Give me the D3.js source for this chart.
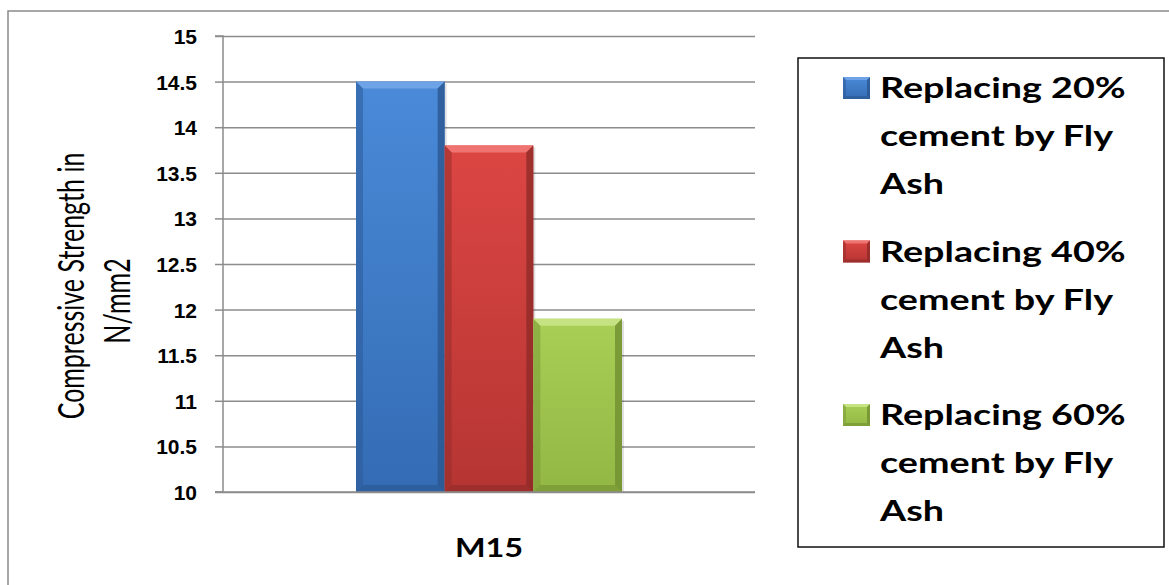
<!DOCTYPE html>
<html lang="en">
<head>
    <meta charset="UTF-8">
    <script src="https://d3js.org/d3.v7.min.js"></script>
    <title>Compressive Strength</title>
    <style>
        body {
            margin: 0;
            padding: 0;
            background: #fff;
        }
        svg {
            display: block;
        }
    </style>
</head>
<body>
<script>
    // data
    var categories = ['M15']
    var seriesNames = [
        'Replacing 20% cement by Fly Ash',
        'Replacing 40% cement by Fly Ash',
        'Replacing 60% cement by Fly Ash'
    ]
    var values = [14.5, 13.8, 11.9]
    var legendLines = [
        ['Replacing 20%', 'cement by Fly', 'Ash'],
        ['Replacing 40%', 'cement by Fly', 'Ash'],
        ['Replacing 60%', 'cement by Fly', 'Ash']
    ]
    var yDomain = [10, 15]
    var yLabelLines = ['Compressive Strength in', 'N/mm2']

    // colours per series
    var palette = [
        { top: '#4a8ad8', bottom: '#346cb4', side: '#2b5a98', hi: '#6fa3e8', lo: '#2a5690' },
        { top: '#dc4643', bottom: '#b53533', side: '#982d2b', hi: '#ef7471', lo: '#8e2a28' },
        { top: '#a9cf56', bottom: '#93b744', side: '#7a9a36', hi: '#c6e383', lo: '#718f31' }
    ]

    var W = 1169, H = 585
    var plot = { left: 223, right: 755, top: 36, bottom: 492 }

    var svg = d3.select('body').append('svg')
        .attr('width', W)
        .attr('height', H)
        .style('font-family', 'Lato, "Open Sans", sans-serif')

    var defs = svg.append('defs')
    palette.forEach(function (c, i) {
        var g = defs.append('linearGradient')
            .attr('id', 'grad' + i)
            .attr('x1', 0).attr('y1', 0).attr('x2', 0).attr('y2', 1)
        g.append('stop').attr('offset', '0%').attr('stop-color', c.top)
        g.append('stop').attr('offset', '100%').attr('stop-color', c.bottom)
    })

    // outer chart border
    svg.append('rect')
        .attr('x', 8).attr('y', 11)
        .attr('width', W + 20).attr('height', H + 20)
        .attr('fill', 'none')
        .attr('stroke', '#8a8a8a')
        .attr('stroke-width', 1.5)

    var y = d3.scaleLinear().domain(yDomain).range([plot.bottom, plot.top])
    var x0 = d3.scaleBand().domain(categories).range([plot.left, plot.right])
        .paddingInner(0).paddingOuter(0.5)
    var x1 = d3.scaleBand().domain(d3.range(values.length)).range([0, x0.bandwidth()])

    var yTicks = y.ticks(10)

    // gridlines
    svg.append('g')
        .attr('transform', 'translate(' + plot.left + ',0)')
        .call(d3.axisLeft(y).tickValues(yTicks).tickSize(-(plot.right - plot.left)).tickFormat(''))
        .call(function (g) {
            g.select('.domain').remove()
            g.selectAll('line').attr('stroke', '#8c8c8c').attr('stroke-width', 1.5)
        })

    // bars with a bevel look
    function bevelBar(parent, bx, by, bw, bh, i, b) {
        var c = palette[i]
        var g = parent.append('g')
        g.append('rect')
            .attr('x', bx).attr('y', by)
            .attr('width', bw).attr('height', bh)
            .attr('fill', 'url(#grad' + i + ')')
        // top bevel
        g.append('polygon')
            .attr('points', [[bx, by], [bx + bw, by], [bx + bw - b, by + b], [bx + b, by + b]].join(' '))
            .attr('fill', c.hi)
        // left bevel
        g.append('polygon')
            .attr('points', [[bx, by], [bx + b, by + b], [bx + b, by + bh - b], [bx, by + bh]].join(' '))
            .attr('fill', c.side).attr('opacity', 0.55)
        // right bevel
        g.append('polygon')
            .attr('points', [[bx + bw, by], [bx + bw, by + bh], [bx + bw - b, by + bh - b], [bx + bw - b, by + b]].join(' '))
            .attr('fill', c.lo).attr('opacity', 0.8)
        // bottom bevel
        g.append('polygon')
            .attr('points', [[bx, by + bh], [bx + bw, by + bh], [bx + bw - b, by + bh - b], [bx + b, by + bh - b]].join(' '))
            .attr('fill', c.lo).attr('opacity', 0.6)
        return g
    }

    var barsG = svg.append('g')
    categories.forEach(function (cat) {
        values.forEach(function (v, i) {
            var bx = x0(cat) + x1(i)
            var by = y(v)
            var bw = x1.bandwidth()
            var bh = y(yDomain[0]) - by
            // soft shadow
            barsG.append('rect')
                .attr('x', bx + 2).attr('y', by + 2)
                .attr('width', bw).attr('height', bh - 2)
                .attr('fill', '#000').attr('opacity', 0.12)
            bevelBar(barsG, bx, by, bw, bh, i, 7)
        })
    })

    // y axis
    svg.append('g')
        .attr('transform', 'translate(' + plot.left + ',0)')
        .call(d3.axisLeft(y).tickValues(yTicks).tickSize(8).tickPadding(18)
            .tickFormat(function (d) { return String(d) }))
        .call(function (g) {
            g.select('.domain').attr('stroke', '#8c8c8c').attr('stroke-width', 1.5)
                .attr('d', 'M-8,' + plot.top + 'H0V' + plot.bottom + 'H-8')
            g.selectAll('.tick line').attr('stroke', '#8c8c8c').attr('stroke-width', 1.5)
            g.selectAll('.tick text')
                .attr('fill', '#000')
                .style('font-size', '21px')
                .style('font-weight', 'bold')
                .attr('dy', '0.36em')
        })

    // baseline across the plot
    svg.append('line')
        .attr('x1', plot.left - 8).attr('x2', plot.right)
        .attr('y1', y(yDomain[0])).attr('y2', y(yDomain[0]))
        .attr('stroke', '#8c8c8c').attr('stroke-width', 1.5)

    // x category label
    categories.forEach(function (cat) {
        svg.append('text')
            .attr('transform', 'translate(' + (x0(cat) + x0.bandwidth() / 2) + ',557) scale(1.2,1)')
            .attr('text-anchor', 'middle')
            .style('font-size', '27px')
            .style('font-weight', 'bold')
            .text(cat)
    })

    // y axis title, stretched like the picture
    var yTitleX = [84, 130]
    var yTitleY = [286, 301]
    yLabelLines.forEach(function (t, i) {
        svg.append('text')
            .attr('transform', 'translate(' + yTitleX[i] + ',' + yTitleY[i] + ') rotate(-90) scale(1,1.45)')
            .attr('text-anchor', 'middle')
            .style('font-size', '25px')
            .text(t)
    })

    // legend
    var legend = svg.append('g')
    legend.append('rect')
        .attr('x', 798).attr('y', 58)
        .attr('width', 366).attr('height', 489)
        .attr('fill', '#fff')
        .attr('stroke', '#111')
        .attr('stroke-width', 1.5)

    var legendY = d3.scalePoint().domain(d3.range(seriesNames.length)).range([98, 425])
    var lineH = 48
    seriesNames.forEach(function (name, i) {
        var base = legendY(i)
        bevelBar(legend, 843, base - 21, 27, 22, i, 3)
        legendLines[i].forEach(function (line, j) {
            legend.append('text')
                .attr('transform', 'translate(880,' + (base + j * lineH) + ') scale(1.3,1)')
                .style('font-size', '29px')
                .style('font-weight', 'bold')
                .text(line)
        })
    })
</script>
</body>
</html>
